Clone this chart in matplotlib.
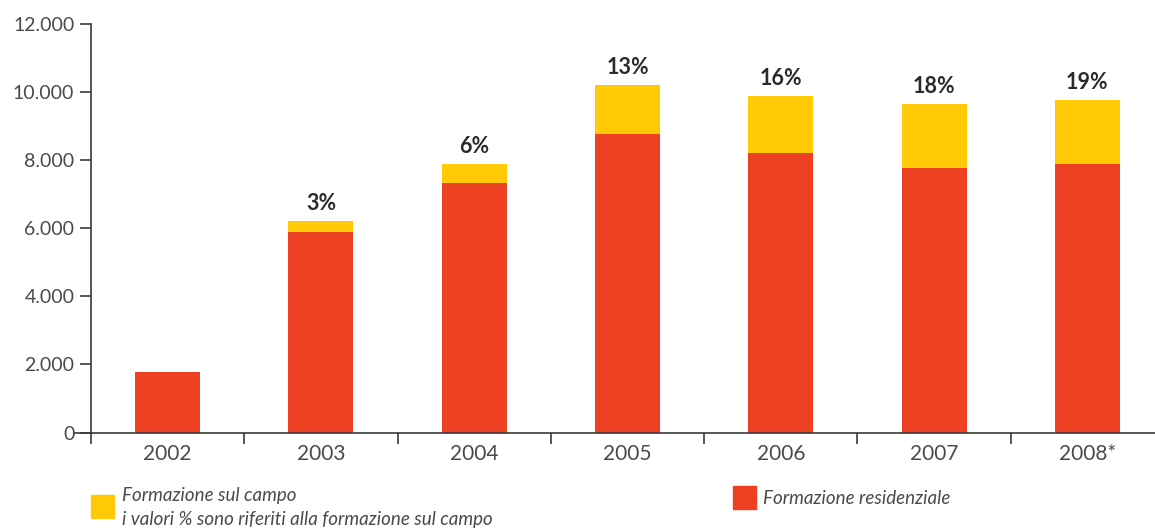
import matplotlib
matplotlib.use("Agg")
import matplotlib.pyplot as plt
from matplotlib.patches import Rectangle
from matplotlib.lines import Line2D

# Data
years = ["2002", "2003", "2004", "2005", "2006", "2007", "2008*"]
residenziale = [1780, 5890, 7330, 8770, 8210, 7780, 7900]
sul_campo = [0, 320, 560, 1450, 1680, 1870, 1870]
percentuali = [None, "3%", "6%", "13%", "16%", "18%", "19%"]
y_ticks = [0, 2000, 4000, 6000, 8000, 10000, 12000]
y_tick_labels = ["0", "2.000", "4.000", "6.000", "8.000", "10.000", "12.000"]

RED = "#EE4124"
YELLOW = "#FFCA05"
TEXT = "#4a4a4a"
AXIS = "#3a3a3a"

plt.rcParams["font.family"] = ["Lato", "DejaVu Sans"]

W, H = 1155, 529
fig = plt.figure(figsize=(W / 100, H / 100), dpi=100)
left, right = 91 / W, 1.0
bottom, top = 1 - 432.5 / H, 1 - 24 / H
ax = fig.add_axes([left, bottom, right - left, top - bottom])

x = range(len(years))
bw = 0.424
ax.bar(x, residenziale, width=bw, color=RED, zorder=2)
ax.bar(x, sul_campo, width=bw, bottom=residenziale, color=YELLOW, zorder=2)

for i, lab in enumerate(percentuali):
    if lab:
        tot = residenziale[i] + sul_campo[i]
        ax.annotate(lab, (i, tot), xytext=(0, 5), textcoords="offset points",
                    ha="center", va="bottom", fontsize=15.5, fontweight="bold",
                    color="#2b2b2b")

ax.set_yticks(y_ticks)
ax.set_yticklabels(y_tick_labels)
ax.tick_params(axis="y", length=8, width=1.2, color=AXIS, labelsize=14,
               labelcolor=TEXT, pad=4)

# category labels centred, tick marks at category boundaries
ax.set_xticks(list(x))
ax.set_xticklabels(years)
ax.set_xticks([i - 0.5 for i in range(len(years) + 1)], minor=True)
ax.tick_params(axis="x", which="major", length=0, labelsize=15,
               labelcolor=TEXT, pad=8)
ax.tick_params(axis="x", which="minor", length=8, width=1.2, color=AXIS)

ax.set_xlim(-0.5, 6.5 - 9 / 153.3)
ax.set_ylim(0, 12000)

for s in ("top", "right"):
    ax.spines[s].set_visible(False)
for s in ("left", "bottom"):
    ax.spines[s].set_color(AXIS)
    ax.spines[s].set_linewidth(1.2)

# baseline continues slightly to the left of the value axis
ax.add_line(Line2D([-0.5 - 16 / 153.3, -0.5], [0, 0], color=AXIS, lw=1.2,
                   clip_on=False))

# Legend
fig.patches.append(Rectangle((91 / W, 1 - 518 / H), 23 / W, 23 / H,
                             transform=fig.transFigure, color=YELLOW))
fig.text(122 / W, 1 - 495 / H, "Formazione sul campo", fontsize=13.5,
         style="italic", color=TEXT, va="center", ha="left")
fig.text(122 / W, 1 - 520 / H,
         "i valori % sono riferiti alla formazione sul campo", fontsize=13.5,
         style="italic", color=TEXT, va="center", ha="left")
fig.patches.append(Rectangle((733 / W, 1 - 509 / H), 23 / W, 23 / H,
                             transform=fig.transFigure, color=RED))
fig.text(763 / W, 1 - 498 / H, "Formazione residenziale", fontsize=13.5,
         style="italic", color=TEXT, va="center", ha="left")

fig.savefig("out.png", dpi=100)
